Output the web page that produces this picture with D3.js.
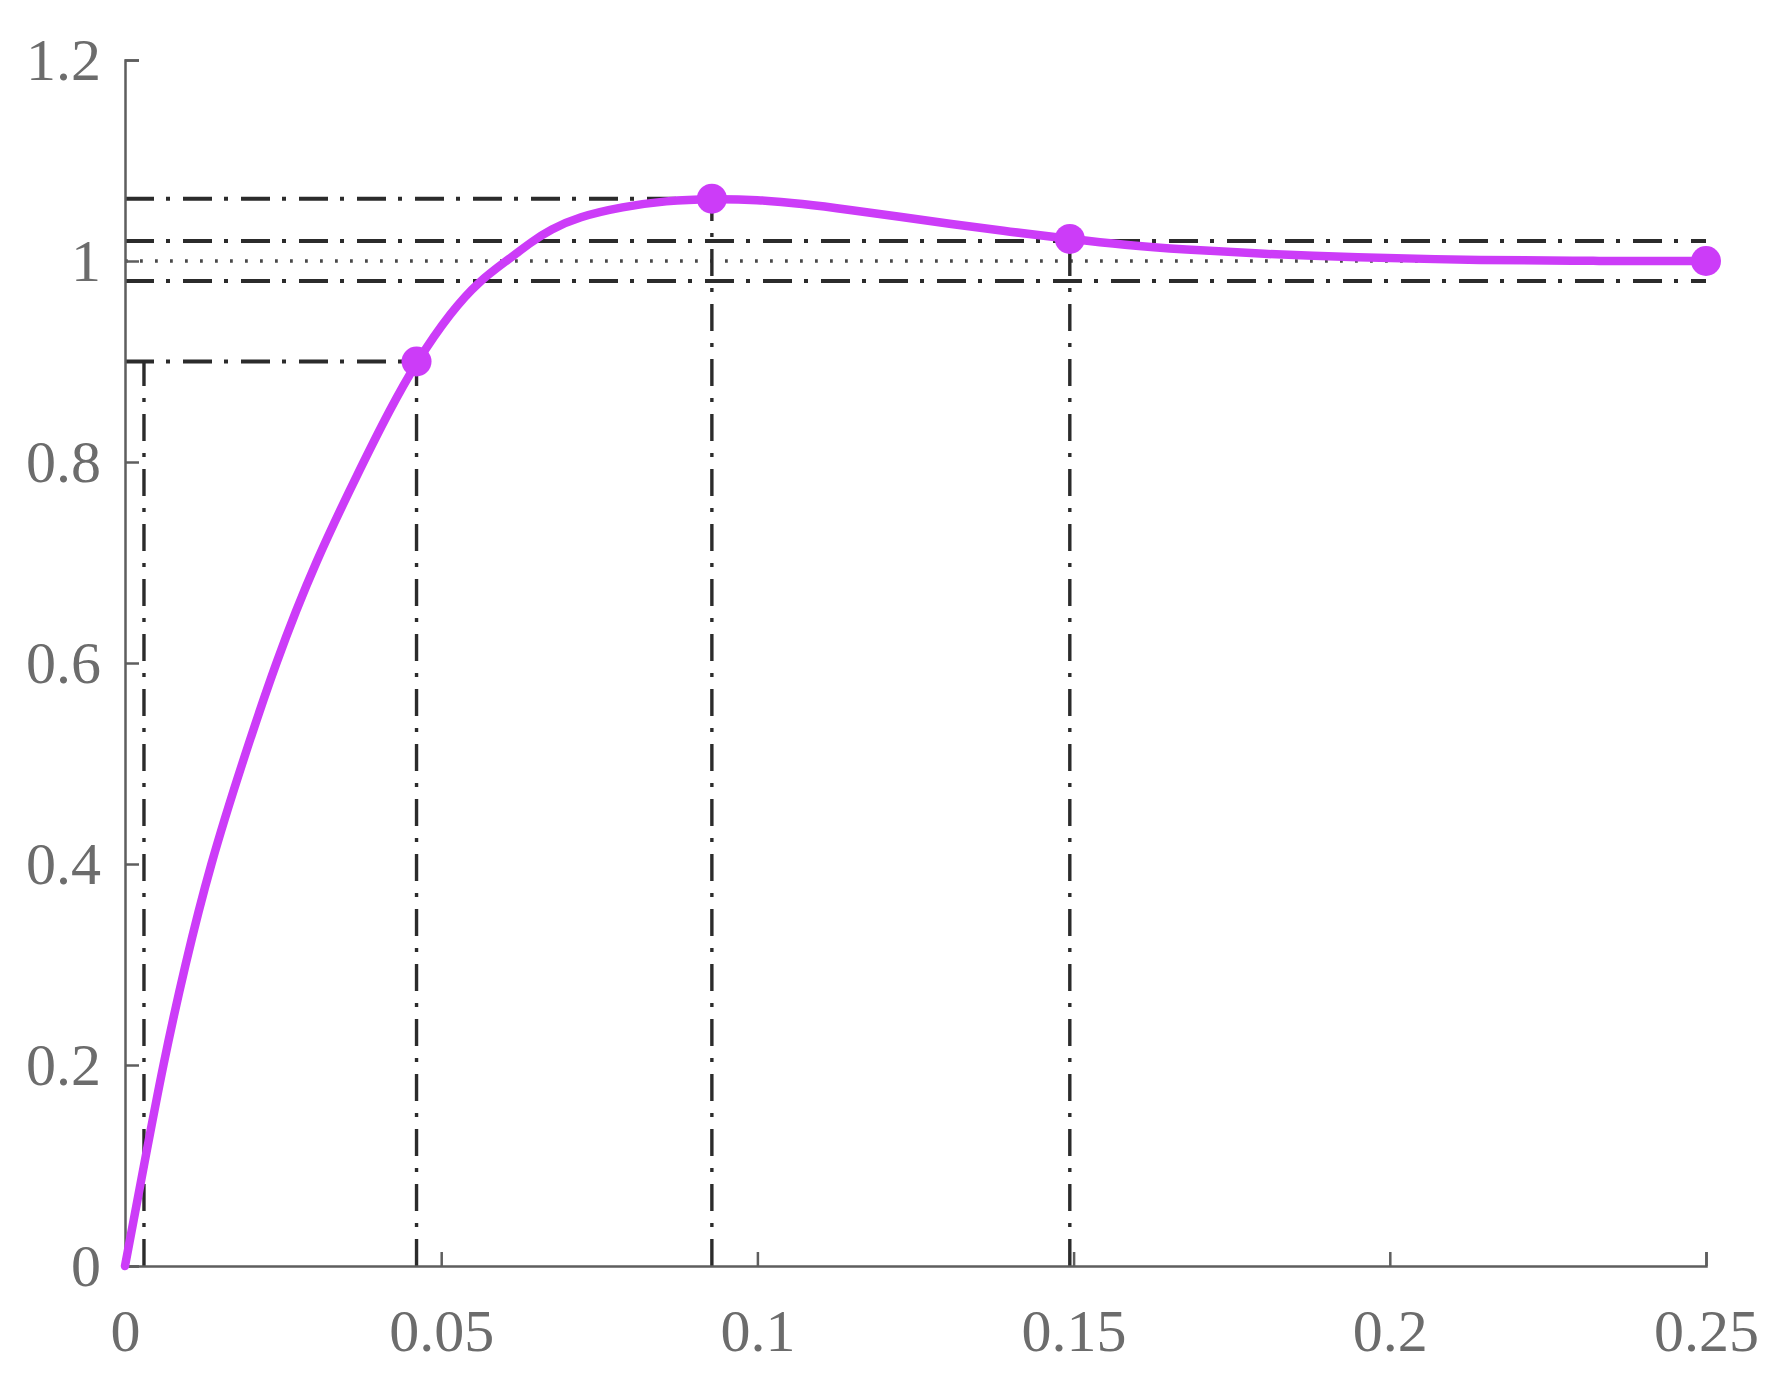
<!DOCTYPE html>
<html>
<head>
<meta charset="utf-8">
<title>Step response</title>
<script type="text/javascript" src="https://d3js.org/d3.v7.min.js"></script>
<style>
body { margin: 0; background: #fff; }
.axis path, .axis line { stroke: #5e5e5e; stroke-width: 2.5; }
.axis text { font-family: "Liberation Serif", "DejaVu Serif", serif; font-size: 60px; fill: #6c6c6c; }
.ref { fill: none; stroke: #2b2b2b; }
</style>
</head>
<body>
<div id="container"></div>
<script>

//------------------------------DATA-------------------------------//
var xTicks = [0, 0.05, 0.1, 0.15, 0.2, 0.25];
var yTicks = [0, 0.2, 0.4, 0.6, 0.8, 1, 1.2];

// step response
var stepT = [0, 0.003, 0.006, 0.0095, 0.0135, 0.0185, 0.0238, 0.03, 0.0377, 0.0417, 0.0461,
             0.0516, 0.056, 0.0603, 0.0645, 0.0672, 0.0717, 0.0787, 0.0855, 0.0928,
             0.1, 0.107, 0.1146, 0.1225, 0.1304, 0.14, 0.1494, 0.158, 0.1673,
             0.18, 0.1937, 0.215, 0.232, 0.25];
var stepY = [0, 0.1, 0.2, 0.3, 0.4, 0.5, 0.6, 0.7, 0.8, 0.85, 0.9,
             0.95, 0.98, 1.0, 1.02, 1.031, 1.044, 1.054, 1.06, 1.062,
             1.061, 1.057, 1.051, 1.044, 1.037, 1.029, 1.022, 1.016, 1.0115,
             1.007, 1.0035, 1.0008, 1.0, 1.0];

// marked points: 90% rise, peak, settling, end
var markT = [0.0461, 0.0928, 0.1494, 0.25];
var markY = [0.9, 1.062, 1.022, 1.0];

// horizontal dash-dot levels and where they stop
var hLevel = [1.062, 1.02, 0.98, 0.9];
var hEnd = [0.0928, 0.25, 0.25, 0.0461];

// dotted final value
var finalLevel = 1.0;
var finalEnd = 0.25;

// vertical dash-dot markers and their tops
var vT = [0.003, 0.0461, 0.0928, 0.1494];
var vTop = [0.9, 0.9, 1.062, 1.022];

//-----------------------------SVG-------------------------------//
var W = 1787, H = 1387;
var margin = {left: 125, right: 81, top: 60, bottom: 121};

var svg = d3.select("#container").append("svg")
    .attr("width", W)
    .attr("height", H);

//----------------------------SCALES-----------------------------//
var xScale = d3.scaleLinear().domain([0, 0.25]).range([margin.left, W - margin.right]);
var yScale = d3.scaleLinear().domain([0, 1.2]).range([H - margin.bottom, margin.top]);

//-------------------------REFERENCE LINES-----------------------//
svg.append("g").selectAll("line")
    .data(hLevel)
    .enter()
    .append("line")
    .attr("class", "ref")
    .attr("x1", xScale(0))
    .attr("x2", function(d, i) { return xScale(hEnd[i]); })
    .attr("y1", function(d) { return yScale(d); })
    .attr("y2", function(d) { return yScale(d); })
    .style("stroke-width", 4)
    .style("stroke-dasharray", "29,12,4,13");

svg.append("line")
    .attr("class", "ref")
    .attr("x1", xScale(0))
    .attr("x2", xScale(finalEnd))
    .attr("y1", yScale(finalLevel))
    .attr("y2", yScale(finalLevel))
    .style("stroke", "#4a4a4a")
    .style("stroke-width", 3.4)
    .style("stroke-dasharray", "2.8,12.2");

svg.append("g").selectAll("line")
    .data(vT)
    .enter()
    .append("line")
    .attr("class", "ref")
    .attr("x1", function(d) { return xScale(d); })
    .attr("x2", function(d) { return xScale(d); })
    .attr("y1", yScale(0))
    .attr("y2", function(d, i) { return yScale(vTop[i]); })
    .style("stroke-width", 3.4)
    .style("stroke-dasharray", "27,12,4,12");

//-----------------------------AXES------------------------------//
var xaxis = d3.axisBottom(xScale)
    .tickValues(xTicks)
    .tickFormat(d3.format("~g"))
    .tickSizeInner(-14)
    .tickSizeOuter(-14)
    .tickPadding(42);

var yaxis = d3.axisLeft(yScale)
    .tickValues(yTicks)
    .tickFormat(d3.format("~g"))
    .tickSizeInner(-14)
    .tickSizeOuter(-14)
    .tickPadding(24);

svg.append("g")
    .attr("class", "axis")
    .attr("transform", "translate(0," + yScale(0) + ")")
    .call(xaxis);

svg.append("g")
    .attr("class", "axis")
    .attr("transform", "translate(" + xScale(0) + ",0)")
    .call(yaxis);

//-----------------------------CURVE-----------------------------//
var line = d3.line()
    .x(function(d, i) { return xScale(stepT[i]); })
    .y(function(d) { return yScale(d); })
    .curve(d3.curveBasis);

svg.append("path")
    .datum(stepY)
    .attr("d", line)
    .style("fill", "none")
    .style("stroke", "#cc3cf8")
    .style("stroke-width", 8.5)
    .style("stroke-linejoin", "round")
    .style("stroke-linecap", "round");

//----------------------------POINTS-----------------------------//
svg.append("g").selectAll("circle")
    .data(markT)
    .enter()
    .append("circle")
    .attr("cx", function(d) { return xScale(d); })
    .attr("cy", function(d, i) { return yScale(markY[i]); })
    .attr("r", 15)
    .style("fill", "#cc3cf8");

</script>
</body>
</html>
